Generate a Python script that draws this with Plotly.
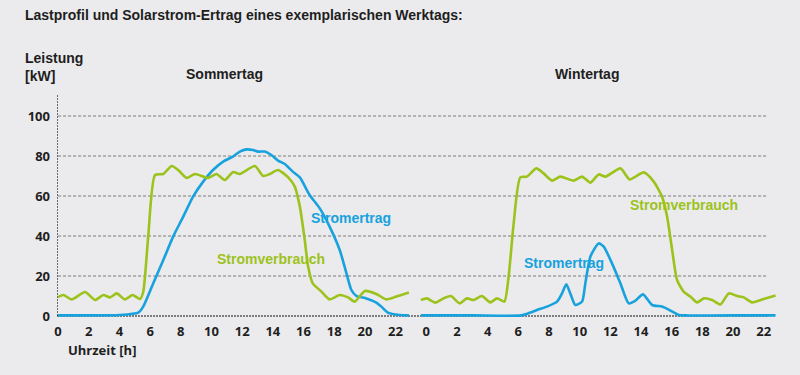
import plotly.graph_objects as go

# ---------------- data (hours, kW) ----------------
sommer_verbrauch_h = [0, 0.35, 0.89, 1.76, 2.41, 2.95, 3.39, 3.82, 4.36, 4.86, 5.34, 5.55, 5.88, 6.32, 6.86,
                      7.4, 7.83, 8.38, 8.92, 9.79, 10.33, 10.87, 11.41, 11.85, 12.83, 13.37, 13.8, 14.34,
                      15.0, 15.43, 15.76, 16.08, 16.3, 16.6, 17.17, 17.7, 18.36, 18.9, 19.34, 20.0, 20.75,
                      21.4, 22.05, 22.87]
sommer_verbrauch_kw = [9.5, 10.5, 8.3, 12, 8, 10.5, 9.3, 11.3, 8.3, 10.5, 8.5, 12, 40, 70.5, 71,
                       75, 73, 69, 71, 69, 71, 68, 72, 71, 75, 70, 71, 73,
                       69.3, 64.7, 54.7, 38, 24.7, 16.3, 12.2, 8.3, 10.5, 9.3, 7.2, 12.5, 11,
                       8.3, 9.7, 11.7]

sommer_ertrag_h = [0, 2, 4, 5.23, 5.55, 6.2, 6.86, 7.5, 8.16, 8.8, 9.46, 10.1, 10.76, 11.4, 11.85, 12.28,
                   12.7, 13.04, 13.48, 13.9, 14.34, 14.78, 15.3, 15.76, 16.4, 17.06, 17.7, 18.36, 18.8,
                   19.12, 19.45, 20.1, 20.75, 21.07, 21.5, 22.27, 22.87]
sommer_ertrag_kw = [0.3, 0.3, 0.5, 1.7, 4.7, 16.3, 28, 39.7, 49.7, 59.7, 67.2, 73, 77.2, 79.7, 82.2, 83.3,
                    83, 82.2, 82.2, 80.5, 77.7, 76, 72.2, 69.3, 60.5, 53.8, 44.7, 33, 21.3,
                    13, 10, 8.8, 6.7, 4.7, 1.7, 0.5, 0.3]

winter_verbrauch_h = [-0.35, 0.04, 0.59, 1.13, 1.61, 2.17, 2.65, 3.09, 3.63, 4.17, 4.61, 5.09, 5.37, 5.7,
                      6.13, 6.57, 7.18, 7.65, 8.2, 8.74, 9.61, 10.16, 10.7, 11.24, 11.68, 12.66, 13.26,
                      14.18, 14.83, 15.37, 15.7, 16.03, 16.35, 16.78, 17.22, 17.66, 18.09, 18.64, 19.18,
                      19.72, 20.27, 20.7, 21.24, 22.0, 22.77]
winter_verbrauch_kw = [8, 8.8, 6.7, 8.8, 10, 6.3, 8.8, 8, 10, 6.8, 8.8, 7.2, 19.7, 46.3,
                       69.3, 69.7, 73.8, 71.3, 67.7, 69.7, 67.7, 69.7, 66.7, 70.8, 69.7, 73.8, 68.3,
                       71.8, 67.2, 59.7, 49.7, 33, 18, 12.2, 9.7, 6.8, 8.8, 8, 5.8,
                       11.3, 10, 9.3, 6.8, 8.5, 10.2]

winter_ertrag_h = [-0.35, 3, 6.2, 6.78, 7.22, 7.87, 8.53, 8.85, 9.13, 9.39, 9.72, 10.16, 10.37, 10.7, 11.24,
                   11.57, 12.11, 12.66, 13.2, 13.64, 14.13, 14.72, 15.37, 15.92, 16.46, 17.0, 20, 22.77]
winter_ertrag_kw = [0.3, 0.3, 0.3, 1.7, 3, 4.7, 7.2, 11.3, 15.8, 11.3, 5.5, 7.2, 16.3, 29.7, 36.3,
                    34.7, 26.3, 16.3, 6.3, 7.7, 10.8, 5.5, 4.7, 2.7, 0.5, 0.3, 0.3, 0.3]

tick_hours = [0, 2, 4, 6, 8, 10, 12, 14, 16, 18, 20, 22]
y_ticks = [0, 20, 40, 60, 80, 100]
winter_offset = 24  # winter panel placed to the right of the summer panel on one axis

# ---------------- styling ----------------
GREEN = "#9cc21c"
BLUE = "#17a2de"
TXT = "#1e1e1e"
BG = "#ebebed"
W, H = 800, 375
ML, MR, MT, MB = 57, 24, 94, 57
PW, PH = W - ML - MR, H - MT - MB


def px(x):
    return (x - ML) / PW


def py(y):
    return (H - MB - y) / PH


fig = go.Figure()
line_kw = dict(width=2.6, shape="spline", smoothing=0.6)
fig.add_trace(go.Scatter(x=sommer_ertrag_h, y=sommer_ertrag_kw, mode="lines",
                         line=dict(color=BLUE, **line_kw), hoverinfo="skip"))
fig.add_trace(go.Scatter(x=sommer_verbrauch_h, y=sommer_verbrauch_kw, mode="lines",
                         line=dict(color=GREEN, **line_kw), hoverinfo="skip"))
fig.add_trace(go.Scatter(x=[h + winter_offset for h in winter_ertrag_h], y=winter_ertrag_kw, mode="lines",
                         line=dict(color=BLUE, **line_kw), hoverinfo="skip"))
fig.add_trace(go.Scatter(x=[h + winter_offset for h in winter_verbrauch_h], y=winter_verbrauch_kw, mode="lines",
                         line=dict(color=GREEN, **line_kw), hoverinfo="skip"))

x_lo, x_hi = -0.07, 46.8
grid_end = 46.25
shapes = []
for v in y_ticks[1:]:
    shapes.append(dict(type="line", xref="x", yref="y", x0=0, x1=grid_end, y0=v, y1=v,
                       line=dict(color="#7a7a7a", width=1, dash="3px,2px"), layer="below"))
shapes.append(dict(type="line", xref="x", yref="y", x0=x_lo, x1=grid_end, y0=0, y1=0,
                   line=dict(color="#111111", width=1, dash="2px,1px"), layer="below"))
shapes.append(dict(type="line", xref="x", yref="y", x0=x_lo, x1=x_lo, y0=0, y1=111,
                   line=dict(color="#111111", width=1.2, dash="2px,1px"), layer="below"))

tick_font = dict(family="Open Sans", size=13, color=TXT, weight="bold")
fig.update_layout(
    width=W, height=H, margin=dict(l=ML, r=MR, t=MT, b=MB),
    paper_bgcolor=BG, plot_bgcolor=BG, showlegend=False,
    shapes=shapes,
    xaxis=dict(range=[x_lo, x_hi], showgrid=False, zeroline=False, showline=False,
               tickvals=tick_hours + [h + winter_offset for h in tick_hours],
               ticktext=[str(h) for h in tick_hours] * 2,
               tickfont=tick_font, ticks="", ticklabelstandoff=4),
    yaxis=dict(range=[-1, 111], showgrid=False, zeroline=False, showline=False,
               tickvals=y_ticks, tickfont=tick_font, ticks="", ticklabelstandoff=6),
)

ann_font = dict(family="Liberation Sans", size=14, color=TXT, weight="bold")
def label(text, x, y, font, xanchor="left", align="left"):
    fig.add_annotation(text=text, x=px(x), y=py(y), xref="paper", yref="paper",
                       xanchor=xanchor, yanchor="middle", align=align, showarrow=False, font=font)

label("Lastprofil und Solarstrom-Ertrag eines exemplarischen Werktags:", 23, 15, ann_font)
label("Leistung<br>[kW]", 23, 67, ann_font)
label("Sommertag", 184, 74, ann_font)
label("Wintertag", 553, 74, ann_font)
label("Uhrzeit [h]", 66, 350, dict(family="Open Sans", size=13, color=TXT, weight="bold"))

series_font_g = dict(family="Liberation Sans", size=14, color=GREEN, weight="bold")
series_font_b = dict(family="Liberation Sans", size=14, color=BLUE, weight="bold")
label("Stromertrag", 309, 218, series_font_b)
label("Stromverbrauch", 215, 259, series_font_g)
label("Stromverbrauch", 628, 205, series_font_g)
label("Stromertrag", 522, 263, series_font_b)

fig.write_html("out.html", config={"displayModeBar": False},
               post_script="document.body.style.margin='0';document.body.style.background='%s';" % BG)
